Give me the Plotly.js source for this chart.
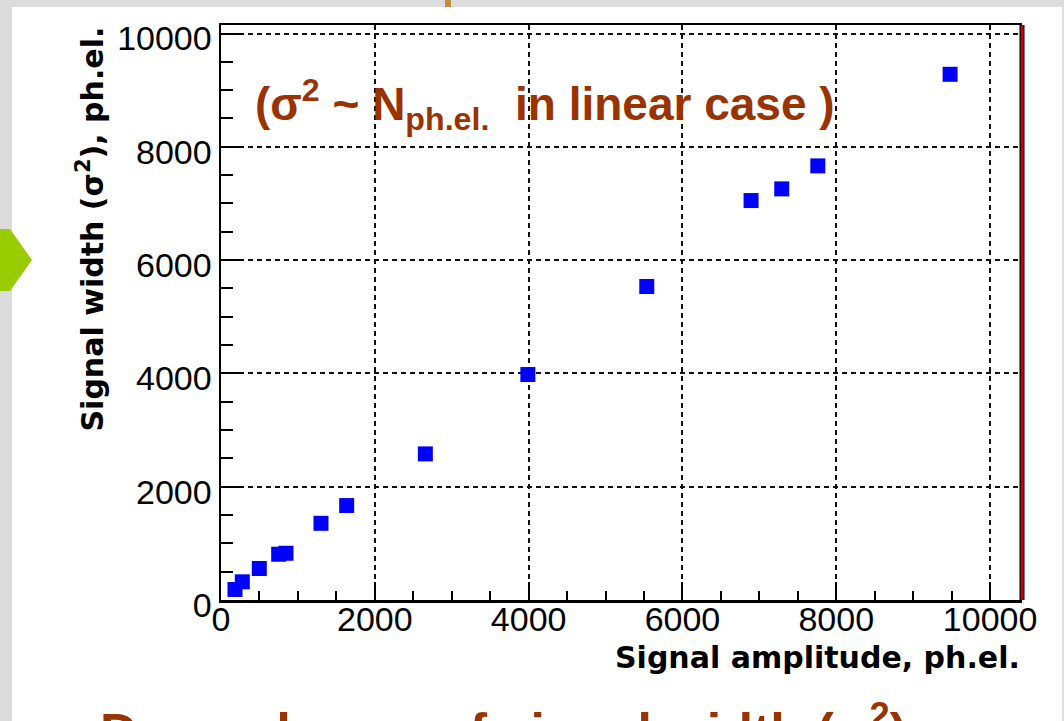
<!DOCTYPE html>
<html>
<head>
<meta charset="utf-8">
<script src="https://cdn.plot.ly/plotly-3.0.1.min.js"></script>
<style>
html,body{margin:0;padding:0;background:#dcdcdc;}
#chart{width:1064px;height:721px;}
</style>
</head>
<body>
<div id="chart"></div>
<script>
// Data
const amplitude = [182, 277, 498, 750, 845, 1300, 1634, 2657, 3990, 5536, 6892, 7291, 7760, 9480];
const width2 = [185, 321, 556, 808, 825, 1354, 1667, 2579, 3980, 5534, 7051, 7257, 7663, 9280];
const tickVals = [0, 2000, 4000, 6000, 8000, 10000];
const tickText = ["0", "2000", "4000", "6000", "8000", "10000"];

const L = 221, R = 1022, T = 25, B = 600;
const W = R - L, H = B - T;
const px = X => (X - L) / W;
const py = Y => (B - Y) / H;

const trace = {
  x: amplitude, y: width2, type: 'scatter', mode: 'markers',
  marker: {symbol: 'square', size: 15, color: '#0000ff', line: {width: 0}},
  hoverinfo: 'x+y', cliponaxis: false
};

const axisCommon = {
  showline: true, linecolor: '#000', linewidth: 2.5,
  ticks: 'inside', tickcolor: '#000', tickwidth: 2,
  tickvals: tickVals, ticktext: tickText,
  showgrid: true, gridcolor: '#111', gridwidth: 2, griddash: '5px,4px',
  zeroline: false,
  tickfont: {family: 'Liberation Sans, Arial, sans-serif', size: 34, color: '#000'}
};

const layout = {
  width: 1064, height: 721,
  margin: {l: L, r: 1064 - R, t: T, b: 721 - B, pad: 0},
  paper_bgcolor: '#dcdcdc', plot_bgcolor: '#ffffff',
  showlegend: false,
  xaxis: Object.assign({}, axisCommon, {
    range: [0, 10415], mirror: true, ticklen: 18, ticklabelstandoff: -12,
    minor: {dtick: 500, tick0: 0, ticks: 'inside', ticklen: 9, tickwidth: 2, tickcolor: '#000', showgrid: false}
  }),
  yaxis: Object.assign({}, axisCommon, {
    range: [0, 10150], mirror: false, ticklen: 22, ticklabelshift: 5,
    minor: {dtick: 500, tick0: 0, ticks: 'inside', ticklen: 12, tickwidth: 2, tickcolor: '#000', showgrid: false}
  }),
  shapes: [
    {type: 'rect', xref: 'paper', yref: 'paper', layer: 'below',
     x0: px(12), x1: px(1062), y0: py(721), y1: py(7),
     fillcolor: '#ffffff', line: {width: 0}},
    {type: 'path', xref: 'paper', yref: 'paper', layer: 'above',
     path: `M ${px(0)} ${py(229)} L ${px(10)} ${py(229)} L ${px(32)} ${py(260)} L ${px(10)} ${py(291)} L ${px(0)} ${py(291)} Z`,
     fillcolor: '#99cc00', line: {width: 0}},
    {type: 'line', xref: 'paper', yref: 'paper', layer: 'above',
     x0: 1, x1: 1, y0: 0, y1: 1, line: {color: '#000', width: 5}},
    {type: 'line', xref: 'paper', yref: 'paper', layer: 'above',
     x0: 1, x1: 1, y0: 0, y1: 1, line: {color: '#cc0000', width: 2.5}},
    {type: 'rect', xref: 'paper', yref: 'paper', layer: 'above',
     x0: px(445), x1: px(451), y0: py(7), y1: py(0),
     fillcolor: '#c08a3a', line: {width: 0}}
  ],
  annotations: [
    {text: '<b>Signal amplitude, ph.el.</b>', xref: 'paper', yref: 'paper',
     x: 1, xanchor: 'right', y: py(657), yanchor: 'middle', showarrow: false,
     font: {family: 'DejaVu Sans, sans-serif', size: 30, color: '#000'}},
    {text: '<b>Signal width (σ<sup>2</sup>), ph.el.</b>', xref: 'paper', yref: 'paper',
     x: px(91), xanchor: 'center', y: 1, yanchor: 'top', textangle: -90, showarrow: false,
     font: {family: 'DejaVu Sans, sans-serif', size: 30, color: '#000'}},
    {text: '<b>(σ<sup>2</sup> ~ N<sub>ph.el.</sub>  in linear case )</b>', xref: 'paper', yref: 'paper',
     x: px(253), xanchor: 'left', y: py(104), yanchor: 'middle', showarrow: false,
     font: {family: 'Liberation Sans, Arial, sans-serif', size: 46, color: '#993300'}},
    {text: '<b>Dependence  of signal width (σ<sup>2</sup>) on</b>', xref: 'paper', yref: 'paper',
     x: px(98), xanchor: 'left', y: py(693), yanchor: 'top', showarrow: false,
     font: {family: 'Liberation Sans, Arial, sans-serif', size: 52, color: '#993300'}}
  ]
};

Plotly.newPlot('chart', [trace], layout, {displayModeBar: false, staticPlot: true});
</script>
</body>
</html>
